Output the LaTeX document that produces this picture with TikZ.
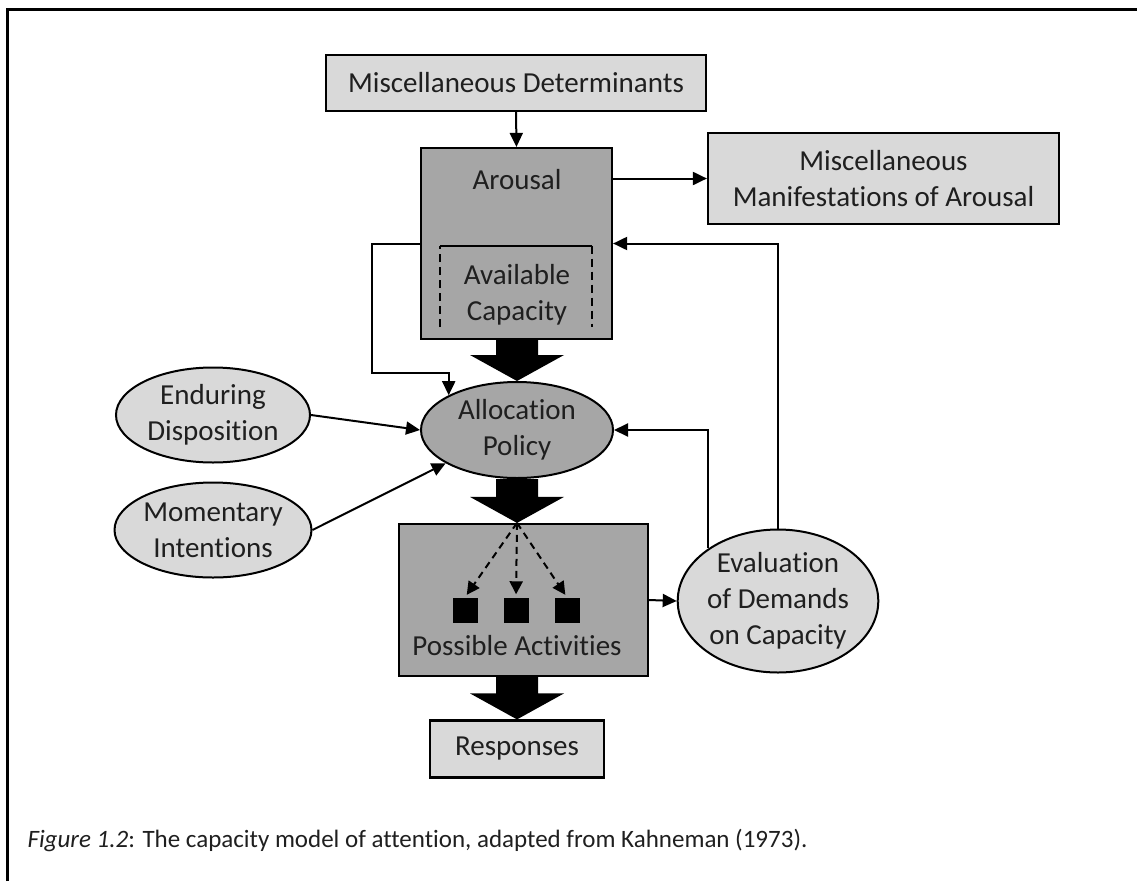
\documentclass[tikz,border=0pt]{standalone}
\usepackage{fontspec}
\setmainfont{Carlito}[Ligatures=NoCommon]
\usetikzlibrary{arrows.meta,calc,shapes.geometric}
\definecolor{lightfill}{HTML}{D9D9D9}
\definecolor{darkfill}{HTML}{A6A6A6}

% thick block arrow from #1 down to #2, centred on the x of #3
\newcommand\fatarrow[3]{%
  \fill let \p1=(#1.south), \p2=(#2.north), \p3=(#3.center) in
  (\x3-21pt,\y1) -- (\x3+21pt,\y1) -- (\x3+21pt,\y2+26pt) -- (\x3+47pt,\y2+26pt)
  -- (\x3,\y2) -- (\x3-47pt,\y2+26pt) -- (\x3-21pt,\y2+26pt) -- cycle;}

\begin{document}
\begin{tikzpicture}[x=1pt,y=-1pt,
  txt/.style={font=\fontsize{29}{36}\selectfont, align=center, text=black!88},
  lbox/.style={rectangle, draw, line width=2.2pt, fill=lightfill, inner sep=0pt, txt},
  dbox/.style={rectangle, draw, line width=2.2pt, fill=darkfill, inner sep=0pt},
  loval/.style={ellipse, draw, line width=2pt, fill=lightfill, inner sep=0pt, txt},
  doval/.style={ellipse, draw, line width=2pt, fill=darkfill, inner sep=0pt, txt},
  conn/.style={line width=2pt, -{Triangle[length=14pt,width=13pt]}},
  fanconn/.style={line width=2pt, dash pattern=on 7pt off 5pt,
    -{Triangle[length=13pt,width=13pt]}, shorten >=3pt},
  activity/.style={rectangle, fill=black, minimum size=25pt, inner sep=0pt},
  caption/.style={font=\fontsize{25}{30}\selectfont, text=black!88, anchor=west}
]
\useasboundingbox (0,0) rectangle (1137,881);

% frame
\draw[line width=3pt] (7.5,881) -- (7.5,9.5) -- (1137,9.5);

% boxes
\node[lbox, minimum width=380pt, minimum height=56pt] (det) at (516,83) {Miscellaneous Determinants};
\node[dbox, minimum width=191pt, minimum height=191pt] (arousal) at (516.5,243.5) {};
\node[txt] (arousaltxt) at (517,180) {Arousal};
\node[lbox, minimum width=351pt, minimum height=91pt] (manif) at (883.5,178.5)
  {Miscellaneous\\Manifestations of Arousal};

% available capacity bracket inside the arousal box
\draw[line width=2pt, dash pattern=on 8pt off 5pt] (440,327) -- (440,245.5);
\draw[line width=2pt] (440,245.5) -- (592,245.5);
\draw[line width=2pt, dash pattern=on 8pt off 5pt] (592,245.5) -- (592,327);
\node[txt] (avail) at (517,295) {Available\\Capacity};

% ellipses
\node[doval, minimum width=192pt, minimum height=96pt] (alloc) at (517,430) {Allocation\\Policy};
\node[loval, minimum width=194pt, minimum height=95pt] (endur) at (213,415) {Enduring\\Disposition};
\node[loval, minimum width=194pt, minimum height=95pt] (moment) at (213,530) {Momentary\\Intentions};
\node[loval, minimum width=194pt, minimum height=143pt] (eval) at (778,601)
  {Evaluation\\of Demands\\on Capacity};

% possible activities
\node[dbox, minimum width=249pt, minimum height=152pt] (poss) at (523.5,600) {};
\node[txt] (posstxt) at (517,646) {Possible Activities};
\node[activity] (sq1) at (465,610) {};
\node[activity] (sq2) at (516,610) {};
\node[activity] (sq3) at (567,610) {};

\node[lbox, minimum width=174pt, minimum height=57pt] (resp) at (517,749) {Responses};

% block arrows
\fatarrow{arousal}{alloc}{alloc}
\fatarrow{alloc}{poss}{alloc}
\fatarrow{poss}{resp}{resp}

% fan-out inside possible activities
\coordinate (fan) at (alloc |- poss.north);
\draw[fanconn] (fan) -- (sq1.north);
\draw[fanconn] (fan) -- (sq2.north);
\draw[fanconn] (fan) -- (sq3.north);

% connectors
\draw[conn] (det.south) -- (arousal.north);
\draw[conn] (arousal.east |- manif.west) -- (manif.west);
\draw[conn] (arousal.west) -- ++(-48,0) -- ++(0,129) -| (alloc.153);
\draw[conn] (endur.east) -- (alloc.west);
\draw[conn] (moment.east) -- (alloc.205);
\draw[conn] (poss.east) -- (eval.west);
\draw[conn] (eval.143) |- (alloc.east);
\draw[conn] (eval.north) |- (arousal.east);

% caption
\node[caption] (cap) at (24,840) {\textit{Figure 1.2}: The capacity model of attention, adapted from Kahneman (1973).};
\end{tikzpicture}
\end{document}
